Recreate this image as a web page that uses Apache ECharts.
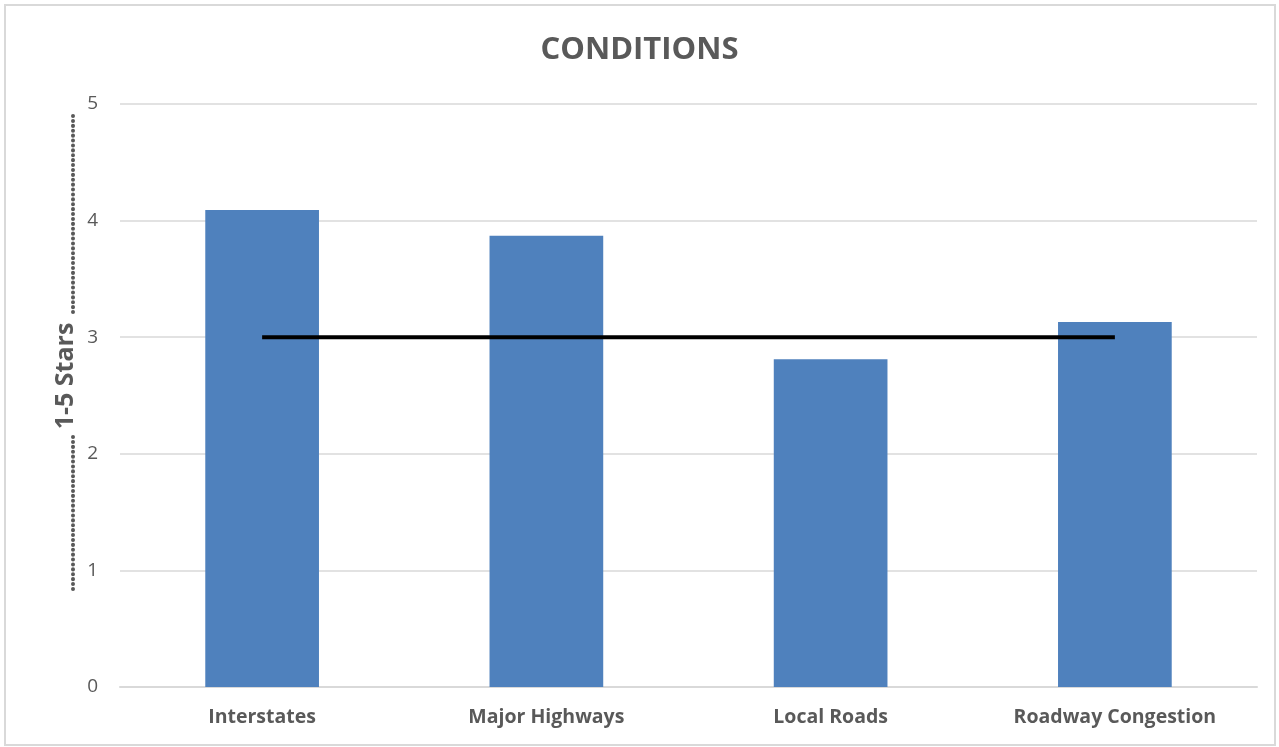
<!DOCTYPE html>
<html><head><meta charset="utf-8">
<script src="https://cdn.jsdelivr.net/npm/echarts@6/dist/echarts.min.js"></script>
<style>html,body{margin:0;padding:0;background:#fff}#c{width:1279px;height:747px}</style>
</head><body><div id="c"></div>
<script>
const categories = ['Interstates', 'Major Highways', 'Local Roads', 'Roadway Congestion'];
const ratings = [4.09, 3.87, 2.81, 3.13];
const target = [3, 3, 3, 3];
const yTicks = [0, 1, 2, 3, 4, 5];

const chart = echarts.init(document.getElementById('c'));
const font = '"Open Sans", "Noto Sans", sans-serif';
chart.setOption({
  animation: false,
  title: {text: 'CONDITIONS', left: 'center', top: 30,
    textStyle: {fontFamily: font, fontSize: 31, fontWeight: 'bold', color: '#595959'}},
  grid: {left: 120, right: 22, top: 104, bottom: 60},
  xAxis: {type: 'category', data: categories,
    axisLine: {lineStyle: {color: '#d9d9d9', width: 2}}, axisTick: {show: false},
    axisLabel: {fontFamily: font, fontSize: 19.5, fontWeight: 'bold', color: '#595959', margin: 20}},
  yAxis: {type: 'value', min: yTicks[0], max: yTicks[yTicks.length - 1], interval: 1,
    axisLine: {show: false}, axisTick: {show: false},
    splitLine: {lineStyle: {color: '#d9d9d9', width: 1.5}},
    axisLabel: {fontFamily: font, fontSize: 19, color: '#595959', margin: 22}},
  series: [
    {type: 'bar', data: ratings, barWidth: '40%', itemStyle: {color: '#4f81bd'}},
    {type: 'line', data: target, symbol: 'none', lineStyle: {color: '#000', width: 4}, z: 5}
  ],
  graphic: [
    {type: 'rect', shape: {x: 5, y: 5, width: 1270, height: 740}, style: {fill: 'none', stroke: '#d9d9d9', lineWidth: 2}, silent: true},
    {type: 'line', shape: {x1: 73, y1: 116, x2: 73, y2: 316}, style: {stroke: '#595959', lineWidth: 4, lineDash: [0.1, 4.8], lineCap: 'round'}},
    {type: 'line', shape: {x1: 73, y1: 437, x2: 73, y2: 592}, style: {stroke: '#595959', lineWidth: 4, lineDash: [0.1, 4.8], lineCap: 'round'}},
    {type: 'text', x: 66, y: 376, rotation: Math.PI / 2,
      style: {text: '1-5 Stars', fontFamily: font, fontSize: 25, fontWeight: 'bold', fill: '#595959', align: 'center', verticalAlign: 'middle'}}
  ]
});
</script></body></html>
